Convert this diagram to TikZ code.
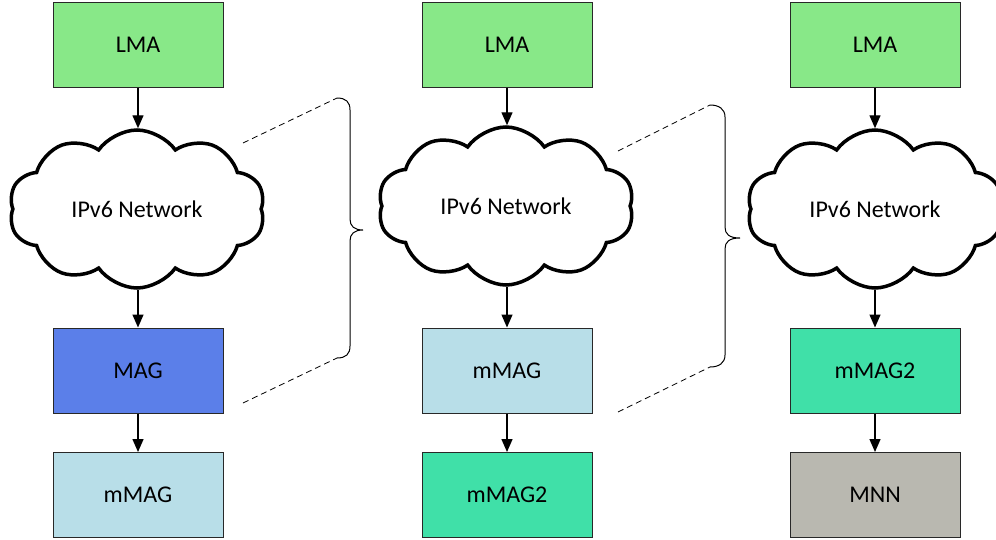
\documentclass[tikz,border=0pt]{standalone}
\usepackage{fontspec}
\setmainfont{Carlito}
\usetikzlibrary{shapes.symbols,arrows.meta}
\definecolor{lmac}{RGB}{136,232,136}
\definecolor{magc}{RGB}{91,127,233}
\definecolor{mmagc}{RGB}{184,222,232}
\definecolor{mmagtwoc}{RGB}{64,224,168}
\definecolor{mnnc}{RGB}{185,184,176}
\definecolor{boxline}{RGB}{40,40,40}
\tikzset{
  box/.style={draw=boxline, line width=1pt, minimum width=170pt, minimum height=85pt, inner sep=0pt, font=\fontsize{24}{27}\selectfont},
  net/.style={cloud, cloud puffs=10, cloud puff arc=110, draw=black, line width=3.5pt, fill=white, minimum width=256pt, minimum height=158pt, aspect=1.6, inner sep=0pt, font=\fontsize{24}{27}\selectfont},
  flow/.style={line width=1.4pt, -{Triangle[length=13pt,width=11pt]}},
  guide/.style={line width=0.8pt, dash pattern=on 6pt off 4pt},
  bracel/.style={line width=1pt}
}
\begin{document}
\begin{tikzpicture}[x=1pt,y=-1pt]
\useasboundingbox (0,0) rectangle (996,539);
% column 1
\node[box, fill=lmac] (l1) at (138,44.5) {LMA};
\node[net] (c1) at (137,209) {IPv6 Network};
\node[box, fill=magc] (m1) at (138,370.5) {MAG};
\node[box, fill=mmagc] (n1) at (138,495) {mMAG};
% column 2
\node[box, fill=lmac] (l2) at (507,44.5) {LMA};
\node[net] (c2) at (506,206) {IPv6 Network};
\node[box, fill=mmagc] (m2) at (507,370.5) {mMAG};
\node[box, fill=mmagtwoc] (n2) at (507,495) {mMAG2};
% column 3
\node[box, fill=lmac] (l3) at (875,44.5) {LMA};
\node[net] (c3) at (875,209) {IPv6 Network};
\node[box, fill=mmagtwoc] (m3) at (875,370.5) {mMAG2};
\node[box, fill=mnnc] (n3) at (875,495) {MNN};
% arrows
\draw[flow] (l1) -- (l1.south |- c1.north);
\draw[flow] (m1.north |- c1.south) -- (m1);
\draw[flow] (m1) -- (n1);
\draw[flow] (l2) -- (l2.south |- c2.north);
\draw[flow] (m2.north |- c2.south) -- (m2);
\draw[flow] (m2) -- (n2);
\draw[flow] (l3) -- (l3.south |- c3.north);
\draw[flow] (m3.north |- c3.south) -- (m3);
\draw[flow] (m3) -- (n3);
% brace 1
\coordinate (a1) at (243,143);
\coordinate (b1) at (337,98);
\coordinate (a2) at (243,403);
\coordinate (b2) at (337,358);
\draw[guide] (a1) -- (b1);
\draw[guide] (a2) -- (b2);
\draw[bracel] (b1) .. controls (346,98) and (350,102) .. (350,110) -- (350,219)
  .. controls (350,226) and (354,230) .. (363,230)
  .. controls (354,230) and (350,234) .. (350,241) -- (350,346)
  .. controls (350,354) and (346,358) .. (b2);
% brace 2
\coordinate (d1) at (618,151);
\coordinate (e1) at (710,105);
\coordinate (d2) at (618,412);
\coordinate (e2) at (710,367);
\draw[guide] (d1) -- (e1);
\draw[guide] (d2) -- (e2);
\draw[bracel] (e1) .. controls (719,105) and (725,109) .. (725,117) -- (725,227)
  .. controls (725,234) and (729,238) .. (740,238)
  .. controls (729,238) and (725,242) .. (725,249) -- (725,355)
  .. controls (725,363) and (719,367) .. (e2);
\end{tikzpicture}
\end{document}
